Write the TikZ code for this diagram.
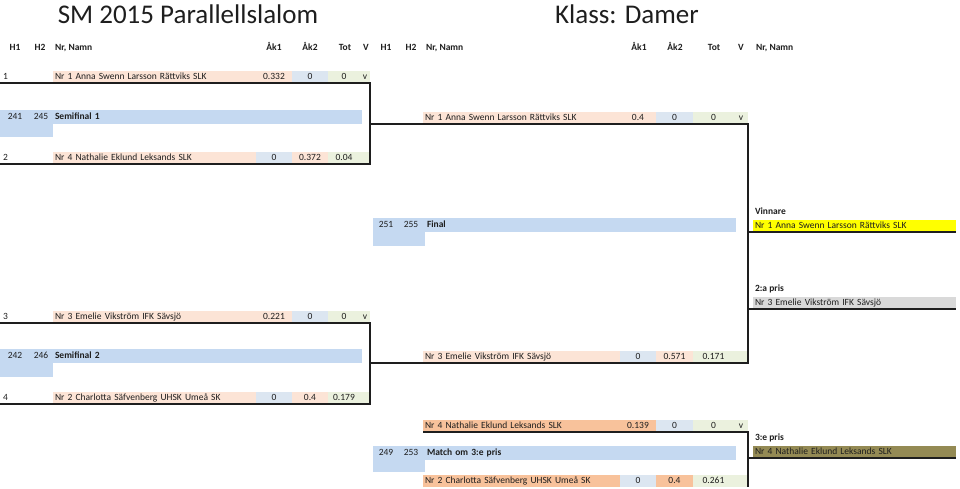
\documentclass[tikz,border=0pt]{standalone}
\usepackage{fontspec}
\setmainfont{Carlito}
\usepackage{tikz}
\usetikzlibrary{positioning}

\definecolor{ora}{HTML}{FCE4D6}
\definecolor{orb}{HTML}{F8C29B}
\definecolor{blu}{HTML}{DCE6F1}
\definecolor{bal}{HTML}{C5D9F1}
\definecolor{gru}{HTML}{EBF1DE}
\definecolor{gelb}{HTML}{FFFF00}
\definecolor{grau}{HTML}{D9D9D9}
\definecolor{oliv}{HTML}{948A54}
\definecolor{schrift}{HTML}{1E1E1E}

\begin{document}
\begin{tikzpicture}[
        x=1pt, y=-1pt,
        text=schrift,
        zelle/.style={inner sep=0pt, outer sep=0pt, minimum height=12pt, text height=6.6pt, text depth=1.7pt,
                      font=\fontsize{9.5}{11}\selectfont},
        kopf/.style={zelle, font=\fontsize{9.5}{11}\selectfont\bfseries},
        breite/.style={minimum width=#1pt},
        nr/.style={zelle, anchor=west, align=left, inner xsep=3pt, text width=47pt},
        namL/.style={zelle, fill=#1, anchor=west, align=left, inner xsep=2pt, text width=199pt},
        namR/.style={namL=#1, text width=193pt},
        zahl/.style={zelle, fill=#1, minimum width=36pt},
        balken/.style={zelle, fill=bal, anchor=north west, minimum height=14pt, align=left, inner xsep=2pt},
        ergebnis/.style={namL=#1},
        linie/.style={draw=schrift, line width=1.7pt}
        ]
    \useasboundingbox (0,0) rectangle (960,488);

    % Titel
    \node[font=\fontsize{27}{30}\selectfont] (titel) at (188,14) {SM 2015 Parallellslalom};
    \node[font=\fontsize{27}{30}\selectfont] (klasse) at (627,14) {Klass: Damer};

    % Kopfzeile
    \foreach \x/\t in {15/H1, 40/H2, 274/Åk1, 310/Åk2, 345/Tot, 366/V,
                       386/H1, 411/H2, 639/Åk1, 675/Åk2, 714/Tot, 741/V}
        \node[kopf] (k\x) at (\x,48) {\t};
    \node[kopf, anchor=west] (kn1) at (55,48) {Nr, Namn};
    \node[kopf, anchor=west] (kn2) at (426,48) {Nr, Namn};
    \node[kopf, anchor=west] (kn3) at (756,48) {Nr, Namn};

    % Balken
    \node[balken, breite=53, minimum height=27pt] (sf1k) at (0,110) {};
    \node[balken, text width=305pt] (sf1) at (53,110) {\bfseries Semifinal 1};
    \node[zelle] (sf1h1) at (15,117) {241};
    \node[zelle] (sf1h2) at (41,117) {245};

    \node[balken, breite=53, minimum height=28pt] (sf2k) at (0,349) {};
    \node[balken, text width=305pt] (sf2) at (53,349) {\bfseries Semifinal 2};
    \node[zelle] (sf2h1) at (15,356) {242};
    \node[zelle] (sf2h2) at (41,356) {246};

    \node[balken, breite=52, minimum height=28pt] (fink) at (373,218) {};
    \node[balken, text width=307pt] (fin) at (425,218) {\bfseries Final};
    \node[zelle] (finh1) at (386,225) {251};
    \node[zelle] (finh2) at (411,225) {255};

    \node[balken, breite=52, minimum height=26pt] (brk) at (373,446) {};
    \node[balken, text width=307pt] (br) at (425,446) {\bfseries Match om 3:e pris};
    \node[zelle] (brh1) at (386,453) {249};
    \node[zelle] (brh2) at (411,453) {253};

    % Laeufer links
    \node[nr] (n1) at (0,77) {1};
    \node[namL=ora, right=0pt of n1] (r1) {Nr 1 Anna Swenn Larsson Rättviks SLK};
    \node[zahl=ora, right=0pt of r1] (r1a) {0.332};
    \node[zahl=blu, right=0pt of r1a] (r1b) {0};
    \node[zahl=gru, breite=32, right=0pt of r1b] (r1t) {0};
    \node[zahl=gru, breite=10, right=0pt of r1t] (r1v) {v};

    \node[nr] (n2) at (0,158) {2};
    \node[namL=ora, right=0pt of n2] (r2) {Nr 4 Nathalie Eklund Leksands SLK};
    \node[zahl=blu, right=0pt of r2] (r2a) {0};
    \node[zahl=ora, right=0pt of r2a] (r2b) {0.372};
    \node[zahl=gru, breite=32, right=0pt of r2b] (r2t) {0.04};
    \node[zahl=gru, breite=10, right=0pt of r2t] (r2v) {};

    \node[nr] (n3) at (0,317) {3};
    \node[namL=ora, right=0pt of n3] (r3) {Nr 3 Emelie Vikström IFK Sävsjö};
    \node[zahl=ora, right=0pt of r3] (r3a) {0.221};
    \node[zahl=blu, right=0pt of r3a] (r3b) {0};
    \node[zahl=gru, breite=32, right=0pt of r3b] (r3t) {0};
    \node[zahl=gru, breite=10, right=0pt of r3t] (r3v) {v};

    \node[nr] (n4) at (0,398) {4};
    \node[namL=ora, right=0pt of n4] (r4) {Nr 2 Charlotta Säfvenberg UHSK Umeå SK};
    \node[zahl=blu, right=0pt of r4] (r4a) {0};
    \node[zahl=ora, right=0pt of r4a] (r4b) {0.4};
    \node[zahl=gru, breite=32, right=0pt of r4b] (r4t) {0.179};
    \node[zahl=gru, breite=10, right=0pt of r4t] (r4v) {};

    % Laeufer rechts
    \node[namR=ora] (s1) at (423,118) {Nr 1 Anna Swenn Larsson Rättviks SLK};
    \node[zahl=ora, right=0pt of s1] (s1a) {0.4};
    \node[zahl=blu, breite=37, right=0pt of s1a] (s1b) {0};
    \node[zahl=gru, breite=41, right=0pt of s1b] (s1t) {0};
    \node[zahl=gru, breite=14, right=0pt of s1t] (s1v) {v};

    \node[namR=ora] (s2) at (423,357) {Nr 3 Emelie Vikström IFK Sävsjö};
    \node[zahl=blu, right=0pt of s2] (s2a) {0};
    \node[zahl=ora, breite=37, right=0pt of s2a] (s2b) {0.571};
    \node[zahl=gru, breite=41, right=0pt of s2b] (s2t) {0.171};
    \node[zahl=gru, breite=14, right=0pt of s2t] (s2v) {};

    \node[namR=orb] (b1) at (423,426) {Nr 4 Nathalie Eklund Leksands SLK};
    \node[zahl=orb, right=0pt of b1] (b1a) {0.139};
    \node[zahl=blu, breite=37, right=0pt of b1a] (b1b) {0};
    \node[zahl=gru, breite=41, right=0pt of b1b] (b1t) {0};
    \node[zahl=gru, breite=14, right=0pt of b1t] (b1v) {v};

    \node[namR=orb] (b2) at (423,481) {Nr 2 Charlotta Säfvenberg UHSK Umeå SK};
    \node[zahl=blu, right=0pt of b2] (b2a) {0};
    \node[zahl=orb, breite=37, right=0pt of b2a] (b2b) {0.4};
    \node[zahl=gru, breite=41, right=0pt of b2b] (b2t) {0.261};
    \node[zahl=gru, breite=14, right=0pt of b2t] (b2v) {};

    % Platzierungen
    \node[kopf, anchor=west] (vinnare) at (755,212) {Vinnare};
    \node[ergebnis=gelb] (sieger) at (753,226) {Nr 1 Anna Swenn Larsson Rättviks SLK};
    \node[kopf, anchor=west] (zweitL) at (755,289) {2:a pris};
    \node[ergebnis=grau] (zweiter) at (753,303) {Nr 3 Emelie Vikström IFK Sävsjö};
    \node[kopf, anchor=west] (drittL) at (755,438) {3:e pris};
    \node[ergebnis=oliv] (dritter) at (753,452) {Nr 4 Nathalie Eklund Leksands SLK};

    % Klammern
    \draw[linie] (n1.south west) -- (r1v.south east) -- (r2v.south east) -- (n2.south west);
    \draw[linie] (n3.south west) -- (r3v.south east) -- (r4v.south east) -- (n4.south west);
    \draw[linie] (r1v.south east |- s1v.south) -- (s1v.south east)
                 -- (s2v.south east) -- (r3v.south east |- s2v.south);
    \draw[linie] (s1v.south east |- sieger.south) -- (sieger.south east);
    \draw[linie] (s1v.south east |- zweiter.south) -- (zweiter.south east);
    \draw[linie] (b1.south west) -- (b1v.south east) -- (b1v.south east |- b2v.south);
    \draw[linie] (b1v.south east |- dritter.south) -- (dritter.south east);
\end{tikzpicture}
\end{document}
